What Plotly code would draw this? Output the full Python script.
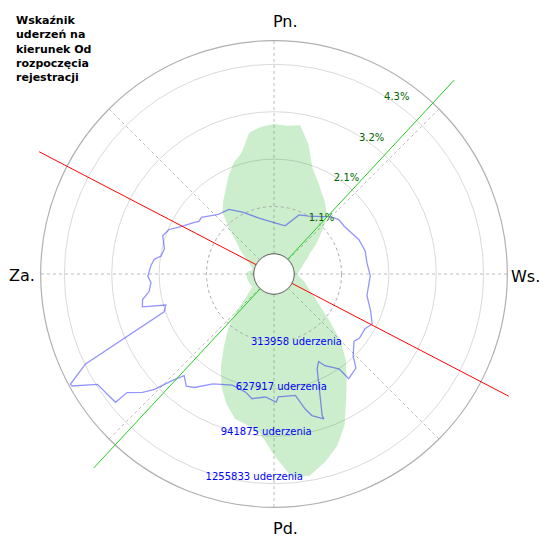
import plotly.graph_objects as go

# ---------------------------------------------------------------
# DATA
# green: share of strikes per direction (%), every 5 deg from north
green_deg = list(range(0, 360, 5))
green_pct = [2.94, 2.91, 2.96, 2.57, 2.09, 1.88, 1.69, 1.55, 1.39, 1.19,
             0.91, 0.70, 0.48, 0.38, 0.27, 0.21, 0.15, 0.11, 0.09, 0.11,
             0.19, 0.27, 0.34, 0.45, 0.62, 0.82, 1.18, 1.66, 2.07, 2.41,
             2.81, 3.32, 3.70, 3.96, 4.18, 4.16, 3.64, 3.16, 3.02, 2.94,
             2.68, 2.36, 1.95, 1.51, 1.16, 0.77, 0.38, 0.21, 0.11, 0.13,
             0.14, 0.15, 0.16, 0.17, 0.17, 0.15, 0.05, 0.05, 0.11, 0.19,
             0.30, 0.48, 0.65, 0.96, 1.36, 1.55, 1.74, 1.98, 2.22, 2.38,
             2.79, 2.89]

# blue: number of strikes per direction
blue_deg = [2, 13, 23, 31, 45, 50, 56, 68, 76, 83, 91, 103, 111, 117, 121,
            127, 130, 136, 139, 144.5, 145, 145.6, 151, 153, 155.5, 161.2,
            161, 165, 167, 170, 178, 179, 184, 190, 193.5, 200.5, 209, 215,
            218, 221.5, 223.6, 226, 228, 231.1, 231, 234, 238, 241, 241.6,
            244.5, 251, 254, 256, 259, 262, 266, 269, 274, 277, 279, 283,
            289, 293, 297, 303, 305, 308, 317, 325, 333, 345]
blue_cnt = [204000, 195000, 292000, 314000, 402000, 427000, 430000, 474000,
            490000, 487000, 505000, 499000, 553000, 597000, 571000, 575000,
            559000, 622000, 694000, 719000, 672000, 628000, 562000, 518000,
            556000, 857000, 882000, 838000, 785000, 684000, 681000, 716000,
            684000, 706000, 672000, 653000, 700000, 785000, 810000, 766000,
            841000, 967000, 1039000, 1118000, 1218000, 1228000, 1246000,
            1397000, 1400000, 1250000, 637000, 612000, 766000, 754000,
            703000, 684000, 703000, 684000, 666000, 625000, 612000, 647000,
            622000, 559000, 496000, 474000, 477000, 408000, 389000, 327000,
            251000]

# axis directions (deg from north) of the red and green lines
line_deg = [117.5, 42.9]
line_len = 5.16

# ring labels
rings = [1, 2, 3, 4]
pct_labels = ['1.1%', '2.1%', '3.2%', '4.3%']
cnt_labels = ['313958 uderzenia', '627917 uderzenia', '941875 uderzenia', '1255833 uderzenia']
pct_step = 4.2857 / 4
cnt_step = 1255833 / 4

dir_deg = [0, 45, 90, 135, 180, 225, 270, 315]
dir_labels = ['Pn.', 'Ws.', 'Pd.', 'Za.']

# ---------------------------------------------------------------
# FIGURE
fig = go.Figure()

# green filled area
fig.add_trace(go.Scatterpolar(
    r=[v / pct_step for v in green_pct] + [green_pct[0] / pct_step],
    theta=green_deg + [green_deg[0]],
    mode='lines',
    fill='toself',
    fillcolor='rgba(0,170,0,0.2)',
    line=dict(width=0, color='rgba(0,0,0,0)'),
    hoverinfo='skip',
    subplot='polar'
))

# blue line
fig.add_trace(go.Scatterpolar(
    r=[v / cnt_step for v in blue_cnt] + [blue_cnt[0] / cnt_step],
    theta=blue_deg + [blue_deg[0]],
    mode='lines',
    line=dict(width=1.3, color='rgba(0,0,255,0.42)'),
    subplot='polar'
))

# percentage labels
fig.add_trace(go.Scatterpolar(
    r=[k - 0.04 for k in rings],
    theta=[32] * len(rings),
    mode='text',
    text=pct_labels,
    textposition='middle right',
    textfont=dict(size=10, color='darkgreen', family='DejaVu Sans'),
    cliponaxis=False,
    subplot='polar'
))

# count labels
fig.add_trace(go.Scatterpolar(
    r=[k + 0.1 for k in rings],
    theta=[198.6] * len(rings),
    mode='text',
    text=cnt_labels,
    textposition='middle right',
    textfont=dict(size=10, color='blue', family='DejaVu Sans'),
    cliponaxis=False,
    subplot='polar'
))

# red / green lines (on a larger transparent polar so they run past the rim)
for deg, col in zip(line_deg, ['red', '#22cc22']):
    fig.add_trace(go.Scatterpolar(
        r=[line_len, 0, None, 0, line_len],
        theta=[deg + 180, deg + 180, None, deg, deg],
        mode='lines',
        line=dict(width=1, color=col),
        subplot='polar2'
    ))

# hole border
fig.add_trace(go.Scatterpolar(
    r=[0] * 73,
    theta=list(range(0, 361, 5)),
    mode='lines',
    line=dict(width=1, color='#444444'),
    hoverinfo='skip',
    subplot='polar2'
))

# title
fig.add_annotation(
    text='<b>Wskaźnik<br>uderzeń na<br>kierunek Od<br>rozpoczęcia<br>rejestracji</b>',
    xref='paper',
    yref='paper',
    x=0.011,
    y=0.9947,
    xanchor='left',
    yanchor='top',
    align='left',
    showarrow=False,
    font=dict(size=11, color='black', family='DejaVu Sans')
)

# compass labels
label_pos = [(0.521, 0.9772, 'center', 'middle'),
             (0.941, 0.4947, 'left', 'middle'),
             (0.521, 0.0189, 'center', 'middle'),
             (0.054, 0.4966, 'right', 'middle')]
for txt, (px, py, xa, ya) in zip(dir_labels, label_pos):
    fig.add_annotation(
        text=txt,
        xref='paper',
        yref='paper',
        x=px,
        y=py,
        xanchor=xa,
        yanchor=ya,
        showarrow=False,
        font=dict(size=16, color='black', family='DejaVu Sans')
    )

fig.update_layout(
    width=542,
    height=531.2,
    margin=dict(l=0, r=9.6, t=1.2, b=0),
    paper_bgcolor='white',
    showlegend=False,
    font=dict(family='DejaVu Sans', color='black'),
    polar=dict(
        domain=dict(x=[0.0614, 0.9386], y=[0.0594, 0.9406]),
        hole=0.086,
        bgcolor='white',
        radialaxis=dict(
            range=[0, 4.5],
            tickvals=[2, 3, 4],
            showticklabels=False,
            ticks='',
            showline=False,
            gridcolor='#dadada',
            gridwidth=1
        ),
        angularaxis=dict(
            rotation=90,
            direction='clockwise',
            tickmode='array',
            tickvals=dir_deg,
            showticklabels=False,
            ticks='',
            showline=True,
            linecolor='#b0b0b0',
            linewidth=1.2,
            gridcolor='#bdbdbd',
            griddash='dot'
        )
    ),
    polar2=dict(
        domain=dict(x=[0, 1], y=[0, 1]),
        hole=0.0757,
        bgcolor='rgba(0,0,0,0)',
        radialaxis=dict(
            range=[0, 5.164],
            tickvals=[1],
            showticklabels=False,
            ticks='',
            showline=False,
            gridcolor='#a8a8a8',
            griddash='dot'
        ),
        angularaxis=dict(
            rotation=90,
            direction='clockwise',
            showgrid=False,
            showline=False,
            showticklabels=False,
            ticks=''
        )
    )
)

fig.write_html("out.html")
